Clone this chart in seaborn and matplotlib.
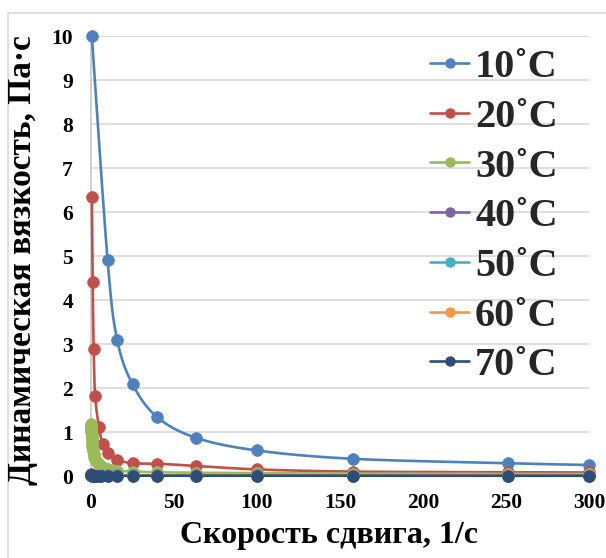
import numpy as np
import matplotlib
matplotlib.use("Agg")
import matplotlib.pyplot as plt
from matplotlib.lines import Line2D
from matplotlib.patches import Rectangle
import seaborn as sns

# Shear rate (1/s) and dynamic viscosity (Pa·s) per temperature
labels = ["10˚C", "20˚C", "30˚C", "40˚C", "50˚C", "60˚C", "70˚C"]
colors = ["#4F81BD", "#C0504D", "#9BBB59", "#8064A2", "#4BACC6", "#F79646", "#2C4D75"]

rate_10 = [0.5, 10.0, 15.8, 25.1, 39.8, 63.1, 100, 158, 251, 300]
visc_10 = [10.0, 4.90, 3.09, 2.08, 1.34, 0.87, 0.58, 0.39, 0.29, 0.25]

rate_20 = [0.5, 1.0, 1.6, 2.5, 4.8, 7.0, 10.0, 15.8, 25.1, 39.8, 63.1, 100, 158, 251, 300]
visc_20 = [6.35, 4.40, 2.88, 1.81, 1.12, 0.73, 0.52, 0.37, 0.29, 0.28, 0.23, 0.15, 0.10, 0.085, 0.08]

rate_30 = [0.10, 0.13, 0.16, 0.20, 0.25, 0.32, 0.40, 0.50, 0.63, 0.79, 1.0, 1.26, 1.58,
           2.0, 2.51, 3.16, 3.98, 5.01, 6.31, 7.94, 10.0, 12.6, 15.8, 25.1, 39.8, 63.1,
           100, 158, 251, 300]
visc_30 = [1.18, 1.14, 1.10, 1.05, 1.00, 0.94, 0.88, 0.82, 0.75, 0.68, 0.62, 0.56, 0.50,
           0.44, 0.39, 0.34, 0.30, 0.26, 0.22, 0.19, 0.17, 0.14, 0.12, 0.10, 0.085, 0.075,
           0.065, 0.055, 0.048, 0.045]

rate_hot = [0.1, 0.16, 0.25, 0.4, 0.63, 1.0, 1.58, 2.51, 3.98, 6.31, 10.0, 15.8, 25.1,
            39.8, 63.1, 100, 158, 251, 300]
visc_40 = [0.035, 0.033, 0.031, 0.029, 0.027, 0.025, 0.023, 0.021, 0.019, 0.018, 0.017,
           0.016, 0.015, 0.014, 0.013, 0.012, 0.011, 0.011, 0.010]
visc_50 = [0.028, 0.026, 0.025, 0.023, 0.022, 0.020, 0.019, 0.017, 0.016, 0.015, 0.014,
           0.013, 0.012, 0.011, 0.010, 0.010, 0.009, 0.009, 0.008]
visc_60 = [0.020, 0.019, 0.018, 0.017, 0.016, 0.015, 0.014, 0.013, 0.012, 0.011, 0.010,
           0.010, 0.009, 0.009, 0.008, 0.008, 0.007, 0.007, 0.006]
visc_70 = [0.014, 0.013, 0.012, 0.012, 0.011, 0.010, 0.010, 0.009, 0.009, 0.008, 0.008,
           0.007, 0.007, 0.006, 0.006, 0.006, 0.005, 0.005, 0.005]

series = [
    (rate_10, visc_10), (rate_20, visc_20), (rate_30, visc_30),
    (rate_hot, visc_40), (rate_hot, visc_50), (rate_hot, visc_60), (rate_hot, visc_70),
]

x_ticks = [0, 50, 100, 150, 200, 250, 300]
y_ticks = list(range(0, 11))


def smooth_curve(x, y, steps=24):
    """Bezier smoothing through every point (Catmull-Rom style control points)."""
    p = np.column_stack([x, y]).astype(float)
    p_ext = np.vstack([p[0], p, p[-1]])
    t = np.linspace(0, 1, steps)[:, None]
    out = []
    for i in range(1, len(p_ext) - 2):
        p0, p1, p2, p3 = p_ext[i - 1], p_ext[i], p_ext[i + 1], p_ext[i + 2]
        c1 = p1 + (p2 - p0) / 6.0
        c2 = p2 - (p3 - p1) / 6.0
        seg = ((1 - t) ** 3) * p1 + 3 * ((1 - t) ** 2) * t * c1 + 3 * (1 - t) * t ** 2 * c2 + t ** 3 * p2
        out.append(seg if i == 1 else seg[1:])
    c = np.vstack(out)
    return c[:, 0], c[:, 1]


sns.set_theme(style="white")
plt.rcParams["font.family"] = ["Liberation Serif", "DejaVu Serif"]
plt.rcParams["font.weight"] = "bold"

fig = plt.figure(figsize=(6.06, 5.58), dpi=100)
ax = fig.add_axes([91 / 606, 82 / 558, 498 / 606, 440 / 558])

for (xs, ys), col in zip(series, colors):
    sx, sy = smooth_curve(xs, ys)
    sns.lineplot(x=sx, y=sy, ax=ax, color=col, linewidth=1.9, sort=False,
                 estimator=None, clip_on=False, zorder=3)
    sns.scatterplot(x=xs, y=ys, ax=ax, color=col, s=72, edgecolor=col, linewidth=0.5,
                    clip_on=False, zorder=4, legend=False)

ax.set_xlim(0, 300)
ax.set_ylim(0, 10)
ax.set_xticks(x_ticks)
ax.set_yticks(y_ticks)
ax.set_xticklabels([str(v) for v in x_ticks], fontsize=15.5, fontweight="bold")
ax.set_yticklabels([str(v) for v in y_ticks], fontsize=15.5, fontweight="bold")
ax.tick_params(axis="both", length=0, colors="black")
ax.tick_params(axis="x", pad=12)
ax.tick_params(axis="y", pad=13)

ax.yaxis.grid(True, color="#D9D9D9", linewidth=1.2, zorder=0)
ax.xaxis.grid(False)
ax.set_axisbelow(True)
for side in ["top", "right", "bottom"]:
    ax.spines[side].set_visible(False)
ax.spines["left"].set_color("#C8C8C8")
ax.spines["left"].set_linewidth(1.2)

ax.set_xlabel("Скорость сдвига, 1/с", fontsize=23, fontweight="bold", color="black")
ax.xaxis.set_label_coords((328.5 - 91) / 498, -0.102)
ax.set_ylabel("Динамическая вязкость, Па·с", fontsize=24, fontweight="bold", color="black")
ax.yaxis.label.set_verticalalignment("center")
ax.yaxis.set_label_coords((22 - 91) / 498, (476 - 260) / 440)

handles = [Line2D([0], [0], color=c, lw=1.9, marker="o", markersize=6.5,
                  markeredgecolor=c) for c in colors]
fig.legend(handles, labels, loc="upper left", bbox_to_anchor=(430 / 606, 1 - 49 / 558),
           frameon=False, prop={"family": "Liberation Serif", "weight": "bold", "size": 29},
           handlelength=0.98, handletextpad=0.14, labelspacing=0.31, borderpad=0,
           borderaxespad=0)

fig.add_artist(Rectangle((8 / 606, -0.05), 1.0, 1 - 13 / 558 + 0.05,
                         transform=fig.transFigure, fill=False, edgecolor="#D9D9D9",
                         linewidth=1.2, zorder=0))

fig.savefig("out.png", dpi=100, facecolor="white")
